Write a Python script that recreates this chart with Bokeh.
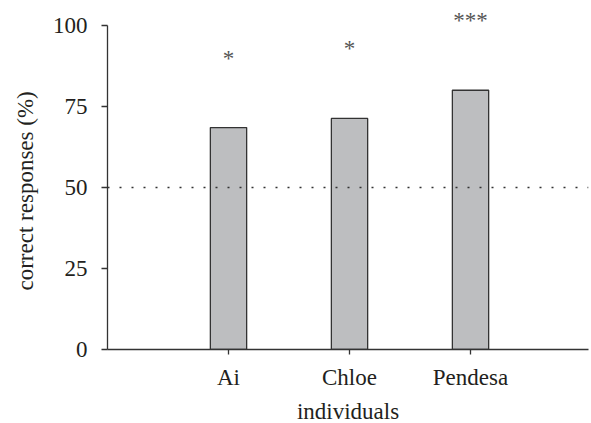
from bokeh.plotting import figure
from bokeh.models import FixedTicker, Span, ColumnDataSource, Range1d, Title
from bokeh.embed import file_html
from bokeh.resources import INLINE
from bokeh.core.properties import value

individuals = ["Ai", "Chloe", "Pendesa"]
positions = [1, 2, 3]
correct_pct = [68.5, 71.3, 80.0]
stars = ["*", "*", "***"]
star_y = [89.8, 92.75, 101.6]
chance_level = 50
y_ticks = [0, 25, 50, 75, 100]

FONT = "Liberation Serif"
INK = "#231f20"

p = figure(frame_width=481, frame_height=349, output_backend="svg", toolbar_location=None,
           x_range=Range1d(0, 3.975), y_range=Range1d(0, 107.7),
           min_border_left=107, min_border_right=3, min_border_top=0, min_border_bottom=60)
p.grid.visible = False
p.outline_line_color = None
p.background_fill_color = "white"
p.border_fill_color = "white"

src = ColumnDataSource(dict(x=positions, top=correct_pct, s=stars, sy=star_y))
p.vbar(x="x", top="top", bottom=0, width=0.3, source=src,
       fill_color="#bdbec0", line_color="#333333", line_width=1.3)

p.add_layout(Span(location=chance_level, dimension="width", line_color="#333333",
                  line_width=1.5, line_dash="2 10"))

p.text(x="x", y="sy", text="s", source=src, text_align="center",
       text_baseline="alphabetic", text_font=value(FONT), text_font_size="23px",
       text_color="#555555")

# y axis
ya = p.yaxis[0]
ya.ticker = FixedTicker(ticks=y_ticks)
ya.bounds = (0, 100)
ya.minor_tick_line_color = None
ya.major_tick_in = 0
ya.major_tick_out = 6
ya.axis_line_color = "#333333"
ya.axis_line_width = 1.3
ya.major_tick_line_color = "#333333"
ya.major_tick_line_width = 1.3
ya.major_label_text_font = FONT
ya.major_label_text_font_size = "23px"
ya.major_label_text_color = INK
ya.major_label_standoff = 14

p.add_layout(Title(text="correct responses (%)", align="left", offset=59,
                   vertical_align="middle",
                   text_font=FONT, text_font_size="23px", text_font_style="normal",
                   text_color=INK, standoff=22), "left")

# x axis
xa = p.xaxis[0]
xa.ticker = FixedTicker(ticks=positions)
xa.major_label_overrides = {pos: name for pos, name in zip(positions, individuals)}
xa.minor_tick_line_color = None
xa.major_tick_in = 0
xa.major_tick_out = 5
xa.axis_line_color = "#333333"
xa.axis_line_width = 1.3
xa.major_tick_line_color = "#333333"
xa.major_tick_line_width = 1.3
xa.major_label_text_font = FONT
xa.major_label_text_font_size = "23px"
xa.major_label_text_color = INK
xa.major_label_standoff = 10
xa.axis_label = "individuals"
xa.axis_label_text_font = FONT
xa.axis_label_text_font_size = "23px"
xa.axis_label_text_font_style = "normal"
xa.axis_label_text_color = INK
xa.axis_label_standoff = 6

open("out.html", "w").write(file_html(p, INLINE))
